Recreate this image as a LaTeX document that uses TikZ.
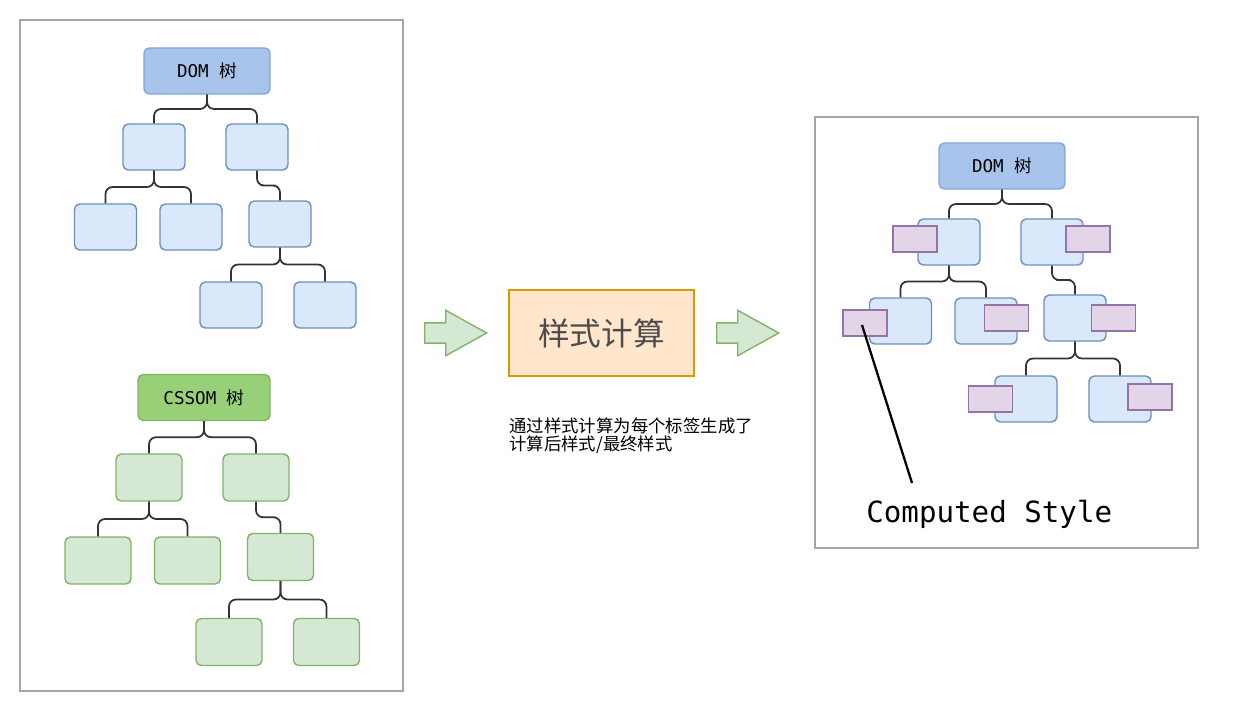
\documentclass[tikz,border=0pt]{standalone}
\usepackage{fontspec}
\setmonofont{DejaVu Sans Mono}
\newfontfamily\cjk{Noto Sans CJK SC}
\usetikzlibrary{calc,shapes.arrows}
\definecolor{domfill}{HTML}{A9C4EB}
\definecolor{domline}{HTML}{7EA6E0}
\definecolor{bluefill}{HTML}{DAE8FC}
\definecolor{blueline}{HTML}{6C8EBF}
\definecolor{cssfill}{HTML}{97D077}
\definecolor{greenfill}{HTML}{D5E8D4}
\definecolor{greenline}{HTML}{82B366}
\definecolor{purfill}{HTML}{E1D5E7}
\definecolor{purline}{HTML}{9673A6}
\definecolor{orfill}{HTML}{FFE6CC}
\definecolor{orline}{HTML}{D79B00}

\begin{document}
\begin{tikzpicture}[x=0.02cm,y=-0.02cm,
  leaf/.style={draw=blueline,fill=bluefill,rounded corners=3pt,line width=0.8pt,
    minimum width=1.24cm,minimum height=0.92cm,inner sep=0pt},
  gleaf/.style={leaf,draw=greenline,fill=greenfill,minimum width=1.32cm,minimum height=0.94cm},
  root/.style={leaf,draw=domline,fill=domfill,minimum width=2.52cm,font=\ttfamily\fontsize{10}{12}\selectfont},
  groot/.style={root,draw=greenline,fill=cssfill,minimum width=2.64cm},
  cstyle/.style={draw=purline,fill=purfill,line width=0.8pt,minimum width=0.88cm,minimum height=0.52cm,inner sep=0pt},
  frame/.style={draw=black!35,line width=0.8pt},
  flow/.style={single arrow,draw=greenline,fill=greenfill,line width=0.8pt,anchor=west,
    minimum height=1.24cm,inner xsep=0pt,inner ysep=0.19cm,
    single arrow head extend=0.25cm,single arrow tip angle=58},
  link/.style={draw=black!80,line width=1pt,rounded corners=4pt,
    to path={|- ($(\tikztostart)!.5!(\tikztotarget)$) -| (\tikztotarget)}}]
\useasboundingbox (0,0) rectangle (1241,709);

% left: DOM tree and CSSOM tree
\draw[frame] (20,20) rectangle (403,691);
\node[root] (d) at (207,71) {DOM {\cjk 树}};
\node[leaf] (d1) at (154,147) {};
\node[leaf] (d2) at (257,147) {};
\node[leaf] (d11) at (105.5,227) {};
\node[leaf] (d12) at (191,227) {};
\node[leaf] (d21) at (280,224) {};
\node[leaf] (d211) at (231,305) {};
\node[leaf] (d212) at (325,305) {};
\foreach \a/\b in {d/d1,d/d2,d1/d11,d1/d12,d2/d21,d21/d211,d21/d212}
  \draw[link] (\a.south) to (\b.north);

\node[groot] (c) at (204,397.5) {CSSOM {\cjk 树}};
\node[gleaf] (c1) at (149,477.5) {};
\node[gleaf] (c2) at (256,477.5) {};
\node[gleaf] (c11) at (98,560.5) {};
\node[gleaf] (c12) at (187.5,560.5) {};
\node[gleaf] (c21) at (280.5,557) {};
\node[gleaf] (c211) at (229,642) {};
\node[gleaf] (c212) at (326.5,642) {};
\foreach \a/\b in {c/c1,c/c2,c1/c11,c1/c12,c2/c21,c21/c211,c21/c212}
  \draw[link] (\a.south) to (\b.north);

% middle
\node[flow] (in) at (424,333) {};
\node[draw=orline,fill=orfill,line width=0.8pt,minimum width=3.7cm,minimum height=1.72cm,
  text=black!70,font=\cjk\fontsize{18}{20}\selectfont] (calc) at (601.5,333) {样式计算};
\node[flow] (out) at (716,333) {};
\node[anchor=north west,inner sep=0pt,align=left,font=\cjk\fontsize{9.9}{10.6}\selectfont] (note)
  at (509,417) {通过样式计算为每个标签生成了\\计算后样式/最终样式};

% right: DOM tree with computed styles
\draw[frame] (815,117) rectangle (1198,548);
\node[root] (r) at (1002,166) {DOM {\cjk 树}};
\node[leaf] (r1) at (949,242) {};
\node[leaf] (r2) at (1052,242) {};
\node[leaf] (r11) at (900.5,321) {};
\node[leaf] (r12) at (986,321) {};
\node[leaf] (r21) at (1075,318) {};
\node[leaf] (r211) at (1026,399) {};
\node[leaf] (r212) at (1120,399) {};
\foreach \a/\b in {r/r1,r/r2,r1/r11,r1/r12,r2/r21,r21/r211,r21/r212}
  \draw[link] (\a.south) to (\b.north);
\node[cstyle] (s1) at (915,239) {};
\node[cstyle] (s2) at (1088,239) {};
\node[cstyle] (s11) at (865,323) {};
\node[cstyle] (s12) at (1006.5,318) {};
\node[cstyle] (s21) at (1113.5,318) {};
\node[cstyle] (s211) at (990.5,399) {};
\node[cstyle] (s212) at (1150,397) {};

\node[anchor=base west,inner sep=0pt,font=\ttfamily\fontsize{16.6}{19}\selectfont] (cs)
  at (866,522) {Computed Style};
\coordinate (tip) at (912,483);
\draw[line width=1.3pt] ($(s11.center)+(-3,2)$) -- (tip);
\end{tikzpicture}
\end{document}
